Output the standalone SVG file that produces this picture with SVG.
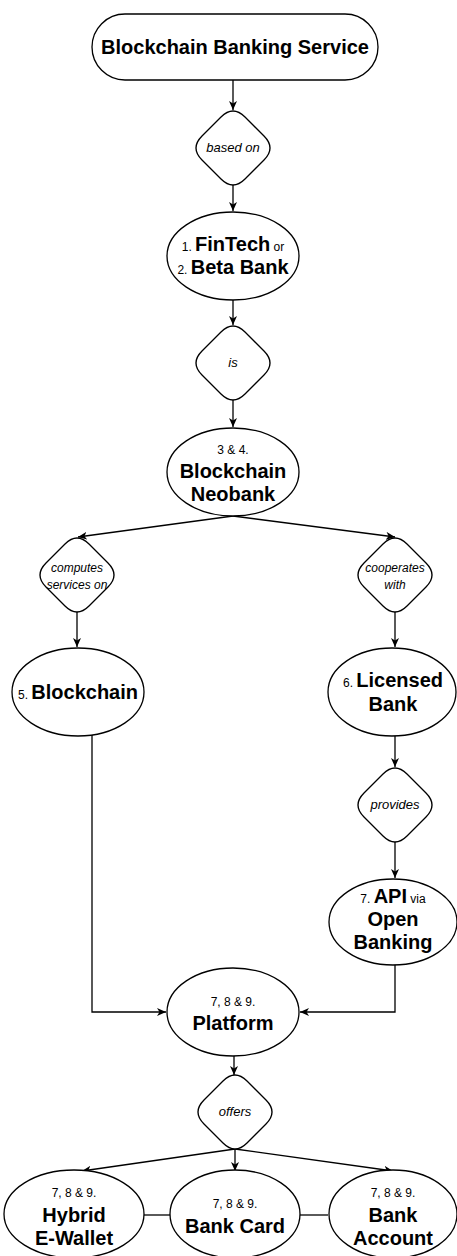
<svg xmlns="http://www.w3.org/2000/svg" xmlns:xlink="http://www.w3.org/1999/xlink" width="457" height="1256" viewBox="0 0 457 1256">
  <style>
    .shape { fill: #ffffff; stroke: #000000; stroke-width: 1.3; }
    .edge { fill: none; stroke: #000000; stroke-width: 1.3; }
    text { font-family: "Liberation Sans", Arial, sans-serif; fill: #000000; text-anchor: middle; }
    .title { font-size: 20px; font-weight: bold; }
    .big { font-size: 20px; font-weight: bold; }
    .small { font-size: 12px; font-weight: normal; }
    .rel { font-size: 13px; font-style: italic; }
    .rel2 { font-size: 12px; font-style: italic; }
  </style>
  <defs>
    <marker id="arrow" viewBox="0 0 10 8" refX="9" refY="4" markerWidth="10" markerHeight="8" markerUnits="userSpaceOnUse" orient="auto">
      <path d="M0,0 L9,4 L0,8 L2.5,4 Z" fill="#000000"/>
    </marker>
    <!-- rounded decision diamond, centred on the origin -->
    <path id="diamond" d="M-12,-31 Q0,-43 12,-31 L31,-12 Q43,0 31,12 L12,31 Q0,43 -12,31 L-31,12 Q-43,0 -31,-12 Z"/>
  </defs>

  <!-- connectors -->
  <g id="connectors">
    <path class="edge" d="M233,80 L233,110" marker-end="url(#arrow)"/>
    <path class="edge" d="M233,185 L233,211" marker-end="url(#arrow)"/>
    <path class="edge" d="M233,300 L233,325" marker-end="url(#arrow)"/>
    <path class="edge" d="M233,400 L233,427" marker-end="url(#arrow)"/>
    <path class="edge" d="M233,516 L78,537" marker-end="url(#arrow)"/>
    <path class="edge" d="M233,516 L395,537" marker-end="url(#arrow)"/>
    <path class="edge" d="M77,612 L77,647" marker-end="url(#arrow)"/>
    <path class="edge" d="M395,612 L395,647" marker-end="url(#arrow)"/>
    <path class="edge" d="M395,736 L395,767" marker-end="url(#arrow)"/>
    <path class="edge" d="M395,842 L395,878" marker-end="url(#arrow)"/>
    <path class="edge" d="M92,735 L92,1012 L166,1012" marker-end="url(#arrow)"/>
    <path class="edge" d="M395,964 L395,1012 L300,1012" marker-end="url(#arrow)"/>
    <path class="edge" d="M234,1056 L234,1075" marker-end="url(#arrow)"/>
    <path class="edge" d="M235,1149 L82,1171" marker-end="url(#arrow)"/>
    <path class="edge" d="M235,1149 L235,1171" marker-end="url(#arrow)"/>
    <path class="edge" d="M235,1149 L393,1171" marker-end="url(#arrow)"/>
    <path class="edge" d="M144,1215 L170,1215"/>
    <path class="edge" d="M300,1215 L328,1215"/>
  </g>

  <g id="service">
    <rect class="shape" x="92" y="14" width="286" height="66" rx="33" ry="33"/>
    <text class="title" x="235" y="54">Blockchain Banking Service</text>
  </g>

  <g id="based-on">
    <use xlink:href="#diamond" class="shape" transform="translate(233,148)"/>
    <text class="rel" x="233" y="152">based on</text>
  </g>

  <g id="fintech">
    <ellipse class="shape" cx="233" cy="256" rx="66" ry="44"/>
    <text x="233" y="251"><tspan class="small">1. </tspan><tspan class="big">FinTech</tspan><tspan class="small"> or</tspan></text>
    <text x="233" y="274"><tspan class="small">2. </tspan><tspan class="big">Beta Bank</tspan></text>
  </g>

  <g id="is">
    <use xlink:href="#diamond" class="shape" transform="translate(233,363)"/>
    <text class="rel" x="233" y="367">is</text>
  </g>

  <g id="neobank">
    <ellipse class="shape" cx="233" cy="472" rx="66" ry="44"/>
    <text class="small" x="233" y="454">3 &amp; 4.</text>
    <text class="big" x="233" y="478">Blockchain</text>
    <text class="big" x="233" y="501">Neobank</text>
  </g>

  <g id="computes">
    <use xlink:href="#diamond" class="shape" transform="translate(77,575)"/>
    <text class="rel2" x="77" y="572">computes</text>
    <text class="rel2" x="77" y="589">services on</text>
  </g>

  <g id="cooperates">
    <use xlink:href="#diamond" class="shape" transform="translate(395,575)"/>
    <text class="rel2" x="395" y="572">cooperates</text>
    <text class="rel2" x="395" y="589">with</text>
  </g>

  <g id="blockchain">
    <ellipse class="shape" cx="78" cy="692" rx="66" ry="44"/>
    <text x="78" y="699"><tspan class="small">5. </tspan><tspan class="big">Blockchain</tspan></text>
  </g>

  <g id="licensed-bank">
    <ellipse class="shape" cx="392" cy="692" rx="64" ry="44"/>
    <text x="393" y="687"><tspan class="small">6. </tspan><tspan class="big">Licensed</tspan></text>
    <text class="big" x="393" y="711">Bank</text>
  </g>

  <g id="provides">
    <use xlink:href="#diamond" class="shape" transform="translate(395,805)"/>
    <text class="rel" x="395" y="809">provides</text>
  </g>

  <g id="api">
    <ellipse class="shape" cx="393" cy="922" rx="64" ry="43"/>
    <text x="393" y="903"><tspan class="small">7. </tspan><tspan class="big">API</tspan><tspan class="small"> via</tspan></text>
    <text class="big" x="393" y="926">Open</text>
    <text class="big" x="393" y="949">Banking</text>
  </g>

  <g id="platform">
    <ellipse class="shape" cx="233" cy="1012" rx="66" ry="44"/>
    <text class="small" x="233" y="1006">7, 8 &amp; 9.</text>
    <text class="big" x="233" y="1030">Platform</text>
  </g>

  <g id="offers">
    <use xlink:href="#diamond" class="shape" transform="translate(235,1112)"/>
    <text class="rel" x="235" y="1116">offers</text>
  </g>

  <g id="e-wallet">
    <ellipse class="shape" cx="74" cy="1214" rx="70" ry="44"/>
    <text class="small" x="74" y="1197">7, 8 &amp; 9.</text>
    <text class="big" x="74" y="1222">Hybrid</text>
    <text class="big" x="74" y="1245">E-Wallet</text>
  </g>

  <g id="bank-card">
    <ellipse class="shape" cx="235" cy="1214" rx="65" ry="44"/>
    <text class="small" x="235" y="1208">7, 8 &amp; 9.</text>
    <text class="big" x="235" y="1233">Bank Card</text>
  </g>

  <g id="bank-account">
    <ellipse class="shape" cx="393" cy="1214" rx="64" ry="44"/>
    <text class="small" x="393" y="1197">7, 8 &amp; 9.</text>
    <text class="big" x="393" y="1222">Bank</text>
    <text class="big" x="393" y="1245">Account</text>
  </g>
</svg>
